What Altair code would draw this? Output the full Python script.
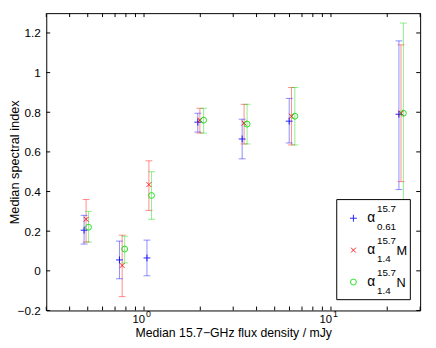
import altair as alt
import pandas as pd

# ---- data ----
series_names = ["a061", "M", "N"]
series_colors = ["#0000ff", "#ff0000", "#00dd00"]

blue_x = [0.478, 0.739, 1.037, 1.94, 3.35, 5.98, 23.1]
blue_y = [0.205, 0.055, 0.065, 0.75, 0.665, 0.755, 0.79]
blue_lo = [0.135, -0.04, -0.025, 0.70, 0.565, 0.645, 0.41]
blue_hi = [0.28, 0.15, 0.155, 0.795, 0.765, 0.87, 1.16]

red_x = [0.49, 0.764, 1.062, 1.99, 3.43, 6.15, 23.7]
red_y = [0.26, 0.027, 0.435, 0.76, 0.745, 0.78, 0.795]
red_lo = [0.145, -0.13, 0.305, 0.695, 0.64, 0.635, 0.45]
red_hi = [0.36, 0.18, 0.555, 0.82, 0.84, 0.925, 1.14]

green_x = [0.505, 0.788, 1.097, 2.083, 3.56, 6.41, 24.4]
green_y = [0.22, 0.11, 0.38, 0.76, 0.74, 0.78, 0.795]
green_lo = [0.145, 0.04, 0.26, 0.695, 0.64, 0.635, 0.33]
green_hi = [0.30, 0.175, 0.50, 0.82, 0.84, 0.925, 1.25]

x_ticks = [0.3, 0.4, 0.5, 0.6, 0.7, 0.8, 0.9, 1, 2, 3, 4, 5, 6, 7, 8, 9, 10, 20, 30]
y_ticks = [-0.2, 0, 0.2, 0.4, 0.6, 0.8, 1.0, 1.2]
x_label_vals = [1, 10]
x_label_exps = ["0", "1"]

FONT = "Liberation Sans"
W, H = 381, 303

rows = []
for name, xs, ys, los, his in [
    ("a061", blue_x, blue_y, blue_lo, blue_hi),
    ("M", red_x, red_y, red_lo, red_hi),
    ("N", green_x, green_y, green_lo, green_hi),
]:
    for a, b, c, d in zip(xs, ys, los, his):
        rows.append({"series": name, "x": a, "y": b, "lo": c, "hi": d})
df = pd.DataFrame(rows)

xscale = alt.Scale(type="log", domain=[0.3, 30], nice=False)
yscale = alt.Scale(domain=[-0.2, 1.3], nice=False, zero=False)
color = alt.Color("series:N", scale=alt.Scale(domain=series_names, range=series_colors), legend=None)

XT = "Median 15.7\u2212GHz flux density / mJy"
YT = "Median spectral index"
xaxis = alt.Axis(labels=False, ticks=False, domain=False, grid=False, title=XT,
                 titleFont=FONT, titleFontSize=12.5, titleFontWeight="normal",
                 titleColor="black", titleY=27, titleBaseline="alphabetic")
yaxis = alt.Axis(values=y_ticks, format=".1~f", tickSize=0, domain=False, grid=False,
                 labelFont=FONT, labelFontSize=12, labelColor="black", labelPadding=6,
                 title=YT, titleFont=FONT, titleFontSize=13,
                 titleFontWeight="normal", titleColor="black",
                 titleX=-32, titleY=H / 2, titleBaseline="middle")

def X(f):
    return alt.X(f, scale=xscale, axis=xaxis, title=XT)

def Y(f):
    return alt.Y(f, scale=yscale, axis=yaxis, title=YT)

plus_path = "M-1,0L1,0M0,-1L0,1"
x_path = "M-1,-1L1,1M-1,1L1,-1"

base = alt.Chart(df)

bars = base.mark_rule(strokeWidth=1, opacity=0.45).encode(
    x=X("x:Q"), y=Y("lo:Q"), y2="hi:Q", color=color)

caps_lo = base.mark_tick(orient="horizontal", size=7, thickness=1, opacity=0.45).encode(
    x=X("x:Q"), y=Y("lo:Q"), color=color)
caps_hi = base.mark_tick(orient="horizontal", size=7, thickness=1, opacity=0.45).encode(
    x=X("x:Q"), y=Y("hi:Q"), color=color)

def markers(name, shape, size, col):
    return alt.Chart(df[df.series == name]).mark_point(
        shape=shape, size=size, filled=False, strokeWidth=1, color=col, opacity=0.85
    ).encode(x=X("x:Q"), y=Y("y:Q"))

m1 = markers("a061", plus_path, 49, series_colors[0])
m2 = markers("M", x_path, 25, series_colors[1])
m3 = markers("N", "circle", 36, series_colors[2])

xt = pd.DataFrame({"v": x_ticks})
yt = pd.DataFrame({"v": y_ticks})
TL = 4
tick_layers = [
    alt.Chart(xt).mark_rule(color="black", strokeWidth=1).encode(
        x=X("v:Q"), y=alt.value(H), y2=alt.value(H - TL)),
    alt.Chart(xt).mark_rule(color="black", strokeWidth=1).encode(
        x=X("v:Q"), y=alt.value(0), y2=alt.value(TL)),
    alt.Chart(yt).mark_rule(color="black", strokeWidth=1).encode(
        y=Y("v:Q"), x=alt.value(0), x2=alt.value(TL)),
    alt.Chart(yt).mark_rule(color="black", strokeWidth=1).encode(
        y=Y("v:Q"), x=alt.value(W - TL), x2=alt.value(W)),
]

xl = pd.DataFrame({"v": x_label_vals, "e": x_label_exps})
xlab_main = alt.Chart(xl).mark_text(font=FONT, fontSize=11.5, align="right", baseline="alphabetic",
                                     color="black", dx=1).encode(
    x=X("v:Q"), y=alt.value(H + 13), text=alt.value("10"))
xlab_exp = alt.Chart(xl).mark_text(font=FONT, fontSize=9, align="left", baseline="alphabetic",
                                    color="black", dx=2).encode(
    x=X("v:Q"), y=alt.value(H + 7), text="e:N")

# ---- legend (drawn inside the axes, like the reference) ----
one = pd.DataFrame({"k": [0]})
LX0, LX1, LY0, LY1 = 296, 371, 190, 292
legend_layers = [
    alt.Chart(one).mark_rect(fill="white", stroke="black", strokeWidth=1).encode(
        x=alt.value(LX0), x2=alt.value(LX1), y=alt.value(LY0), y2=alt.value(LY1)),
]
legend_shapes = [(plus_path, 49), (x_path, 25), ("circle", 36)]
legend_subs = ["0.61", "1.4", "1.4"]
legend_suffix = ["", "M", "N"]
for i in range(3):
    cy = 209 + 32.5 * i
    shp, sz = legend_shapes[i]
    legend_layers.append(alt.Chart(one).mark_point(shape=shp, size=sz, filled=False, strokeWidth=1,
                                                   color=series_colors[i], opacity=0.85).encode(
        x=alt.value(313), y=alt.value(cy)))
    legend_layers.append(alt.Chart(one).mark_text(font=FONT, fontSize=14, align="left",
                                                  baseline="alphabetic", color="black").encode(
        x=alt.value(327), y=alt.value(cy + 4), text=alt.value("\u03b1")))
    legend_layers.append(alt.Chart(one).mark_text(font=FONT, fontSize=10, align="left",
                                                  baseline="alphabetic", color="black").encode(
        x=alt.value(337), y=alt.value(cy - 6), text=alt.value("15.7")))
    legend_layers.append(alt.Chart(one).mark_text(font=FONT, fontSize=10, align="left",
                                                  baseline="alphabetic", color="black").encode(
        x=alt.value(337), y=alt.value(cy + 12), text=alt.value(legend_subs[i])))
    if legend_suffix[i]:
        legend_layers.append(alt.Chart(one).mark_text(font=FONT, fontSize=13, align="left",
                                                      baseline="alphabetic", color="black").encode(
            x=alt.value(357), y=alt.value(cy + 5), text=alt.value(legend_suffix[i])))

chart = alt.layer(
    bars, caps_lo, caps_hi, m1, m2, m3, *tick_layers, xlab_main, xlab_exp, *legend_layers
).properties(
    width=W, height=H,
    autosize=alt.AutoSizeParams(type="none"),
    padding={"left": 39, "top": 2, "right": 8, "bottom": 35},
    background="white",
).configure_view(stroke="black", strokeWidth=1)

chart.save("out.html", embed_options={"renderer": "svg", "actions": False})
